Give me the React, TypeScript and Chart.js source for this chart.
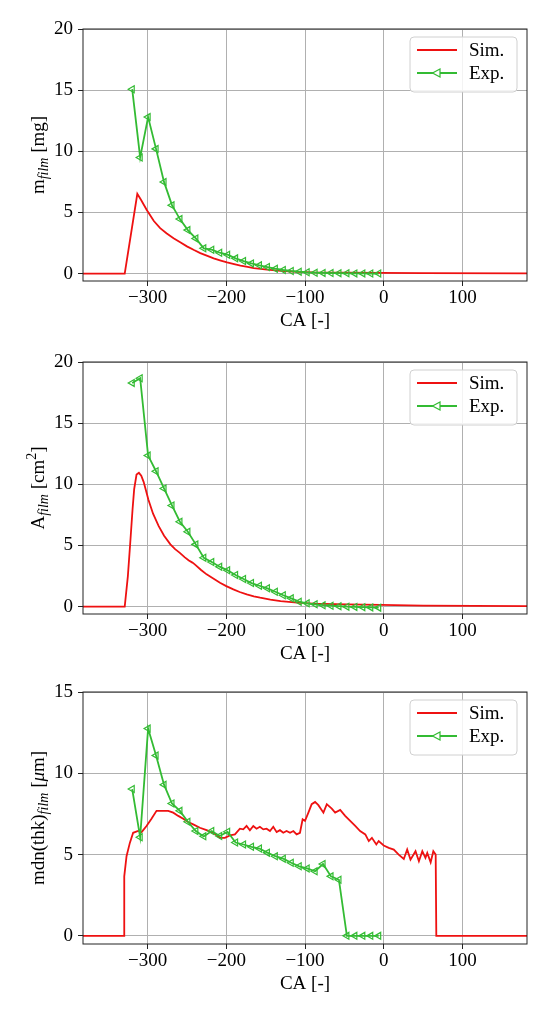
import React, { useEffect, useRef } from 'react';
import Chart from 'chart.js/auto';

const FONT = '"Liberation Serif", "DejaVu Serif", serif';
const RED = '#ee1111';
const GREEN = '#33bb33';

// crank angle of the measured points, same for all three panels
const caExp = [
  -319.5, -309.4, -299.3, -289.2, -279.1, -269, -258.9, -248.8, -238.7, -228.6, -218.5,
  -208.4, -198.3, -188.2, -178.1, -168, -157.9, -147.8, -137.7, -127.6, -117.5, -107.4,
  -97.3, -87.2, -77.1, -67, -56.9, -46.8, -36.7, -26.6, -16.5, -6.4,
];
const massExp = [
  15.08, 9.5, 12.8, 10.2, 7.5, 5.6, 4.46, 3.56, 2.88, 2.07, 1.96, 1.71, 1.55, 1.25, 1.03,
  0.84, 0.68, 0.54, 0.41, 0.3, 0.22, 0.16, 0.11, 0.08, 0.06, 0.05, 0.04, 0.03, 0.02, 0.02,
  0.01, 0.01,
];
const areaExp = [
  18.29, 18.67, 12.35, 11.07, 9.66, 8.27, 6.94, 6.12, 5.09, 4.0, 3.65, 3.27, 2.97, 2.59,
  2.26, 1.93, 1.71, 1.5, 1.22, 0.93, 0.68, 0.41, 0.27, 0.19, 0.12, 0.08, 0.04, 0.0, -0.02,
  -0.04, -0.06, -0.08,
];
const thkExp = [
  9.03, 6.07, 12.75, 11.1, 9.3, 8.14, 7.69, 7.02, 6.45, 6.12, 6.45, 6.14, 6.4, 5.74, 5.62,
  5.48, 5.37, 5.12, 4.9, 4.75, 4.5, 4.28, 4.15, 3.97, 4.42, 3.66, 3.45, 0, 0, 0, 0, 0,
];

// simulation curves
const caSimMass = [
  -382, -329, -313, -308, -301, -292, -284, -276, -267, -258, -250, -241, -233, -224, -216,
  -207, -199, -190, -182, -173, -165, -148, -131, -110, -89, -47, -4, 50, 182,
];
const massSim = [
  0, 0, 6.52, 6.0, 5.2, 4.3, 3.72, 3.3, 2.9, 2.55, 2.23, 1.93, 1.68, 1.45, 1.25, 1.07, 0.92,
  0.78, 0.65, 0.55, 0.46, 0.33, 0.22, 0.14, 0.1, 0.08, 0.07, 0.05, 0.03,
];
const caSimArea = [
  -382, -329, -325, -322, -319, -317, -314, -311, -308, -305, -302, -299, -293, -286, -279,
  -271, -265, -259, -253, -248, -243, -240, -232, -225, -216, -208, -200, -191, -183, -174,
  -165, -157, -144, -131, -110, -89, -47, -4, 50, 182,
];
const areaSim = [
  0, 0, 2.5, 5.2, 8.0, 9.6, 10.8, 10.94, 10.7, 10.2, 9.5, 8.76, 7.6, 6.6, 5.8, 5.09, 4.7,
  4.4, 4.05, 3.8, 3.6, 3.46, 3.0, 2.64, 2.28, 1.96, 1.68, 1.41, 1.2, 1.0, 0.85, 0.73, 0.58,
  0.46, 0.33, 0.24, 0.19, 0.14, 0.08, 0.04,
];
const caSimThk = [
  -382, -329.7, -329.6, -326.7, -322.5, -318.3, -312, -307.6, -301.3, -295, -288.6, -282.3,
  -273.8, -267.4, -261, -254.7, -248.4, -242, -233.5, -225, -216.6, -208, -201.8, -195.4,
  -189, -182.7, -178.4, -174.2, -170, -165.7, -161.5, -157.3, -153, -148.8, -144.5, -140.3,
  -136, -131.8, -127.6, -123.4, -119, -114.8, -110.6, -106.4, -103, -100, -95.7, -91.5,
  -87.2, -83, -76.6, -72.3, -66, -61.7, -55.3, -49, -42.6, -36.2, -30, -23.4, -19, -15,
  -9.4, -6.4, 0, 6.4, 12.8, 19, 25.5, 29.8, 34, 40.4, 44.7, 49, 53, 55.3, 59.6, 63, 66,
  66.8, 182,
];
const thkSim = [
  0, 0, 3.66, 4.9, 5.72, 6.34, 6.45, 6.38, 6.76, 7.21, 7.69, 7.69, 7.69, 7.58, 7.38, 7.21,
  7.0, 6.86, 6.65, 6.5, 6.34, 6.03, 6.03, 6.18, 6.24, 6.59, 6.55, 6.76, 6.5, 6.76, 6.59,
  6.71, 6.55, 6.59, 6.45, 6.71, 6.38, 6.5, 6.34, 6.45, 6.34, 6.45, 6.24, 6.34, 7.17, 7.07,
  7.58, 8.1, 8.24, 8.04, 7.58, 8.1, 7.83, 7.58, 7.75, 7.38, 7.07, 6.76, 6.45, 6.24, 5.83,
  6.03, 5.62, 5.83, 5.56, 5.41, 5.31, 5.0, 4.73, 5.31, 4.69, 5.21, 4.59, 5.21, 4.79, 5.1,
  4.52, 5.21, 5.0, 0, 0,
];

const xTicks = [-300, -200, -100, 0, 100];
const massTicks = [0, 5, 10, 15, 20];
const areaTicks = [0, 5, 10, 15, 20];
const thkTicks = [0, 5, 10, 15];

type LabelPart = { text: string; italic?: boolean; small?: boolean; shift?: number };

const massLabel: LabelPart[] = [
  { text: 'm' },
  { text: 'film', italic: true, small: true, shift: 4 },
  { text: ' [mg]' },
];
const areaLabel: LabelPart[] = [
  { text: 'A' },
  { text: 'film', italic: true, small: true, shift: 4 },
  { text: ' [cm' },
  { text: '2', small: true, shift: -8 },
  { text: ']' },
];
const thkLabel: LabelPart[] = [
  { text: 'mdn(thk)' },
  { text: 'film', italic: true, small: true, shift: 4 },
  { text: ' [' },
  { text: 'μ', italic: true },
  { text: 'm]' },
];

const partFont = (p: LabelPart) => `${p.italic ? 'italic ' : ''}${p.small ? 14 : 19}px ${FONT}`;

const fmt = (v: number) => (v < 0 ? '\u2212' + Math.abs(v) : String(v));

interface PanelProps {
  top: number;
  simX: number[];
  simY: number[];
  expY: number[];
  yTicks: number[];
  yMin: number;
  yMax: number;
  yLabel: LabelPart[];
}

const FilmPanel: React.FC<PanelProps> = ({ top, simX, simY, expY, yTicks, yMin, yMax, yLabel }) => {
  const canvasRef = useRef<HTMLCanvasElement>(null);

  useEffect(() => {
    if (!canvasRef.current) return;

    const decor = {
      id: 'decor',
      afterDatasetsDraw(chart: any) {
        const { ctx, chartArea: a } = chart;
        ctx.save();
        // frame on all four sides
        ctx.strokeStyle = '#222';
        ctx.lineWidth = 1;
        ctx.strokeRect(a.left, a.top, a.right - a.left, a.bottom - a.top);

        // legend box in the upper right corner
        const bw = 107;
        const bh = 55;
        const bx = a.right - 10 - bw;
        const by = a.top + 8;
        ctx.beginPath();
        ctx.roundRect(bx, by, bw, bh, 4);
        ctx.fillStyle = 'rgba(255,255,255,0.85)';
        ctx.fill();
        ctx.strokeStyle = '#d0d0d0';
        ctx.stroke();

        const rows = [
          { label: 'Sim.', color: RED, marker: false },
          { label: 'Exp.', color: GREEN, marker: true },
        ];
        rows.forEach((r, i) => {
          const y = by + 13 + i * 23;
          ctx.strokeStyle = r.color;
          ctx.lineWidth = 1.8;
          ctx.beginPath();
          ctx.moveTo(bx + 7, y);
          ctx.lineTo(bx + 47, y);
          ctx.stroke();
          if (r.marker) {
            const cx = bx + 27;
            ctx.lineWidth = 1.2;
            ctx.fillStyle = '#fff';
            ctx.beginPath();
            ctx.moveTo(cx - 4.5, y);
            ctx.lineTo(cx + 3, y - 4);
            ctx.lineTo(cx + 3, y + 4);
            ctx.closePath();
            ctx.fill();
            ctx.stroke();
          }
          ctx.fillStyle = '#000';
          ctx.font = `19px ${FONT}`;
          ctx.textBaseline = 'middle';
          ctx.textAlign = 'left';
          ctx.fillText(r.label, bx + 59, y + 1);
        });
        ctx.restore();
      },
      afterDraw(chart: any) {
        const { ctx, chartArea: a } = chart;
        ctx.save();
        ctx.fillStyle = '#000';
        // x title
        ctx.font = `19px ${FONT}`;
        ctx.textAlign = 'center';
        ctx.textBaseline = 'middle';
        ctx.fillText('CA [-]', (a.left + a.right) / 2, a.bottom + 40);

        // y title with sub/superscripts, rotated
        const widths = yLabel.map((p) => {
          ctx.font = partFont(p);
          return ctx.measureText(p.text).width;
        });
        const total = widths.reduce((s, w) => s + w, 0);
        ctx.translate(44, (a.top + a.bottom) / 2);
        ctx.rotate(-Math.PI / 2);
        ctx.textAlign = 'left';
        ctx.textBaseline = 'alphabetic';
        let x = -total / 2;
        yLabel.forEach((p, i) => {
          ctx.font = partFont(p);
          ctx.fillText(p.text, x, p.shift ?? 0);
          x += widths[i];
        });
        ctx.restore();
      },
    };

    const chart = new Chart(canvasRef.current, {
      type: 'line',
      data: {
        datasets: [
          {
            label: 'Exp.',
            data: caExp.map((x, i) => ({ x, y: expY[i] })),
            borderColor: GREEN,
            borderWidth: 1.8,
            pointStyle: 'triangle',
            rotation: -90,
            pointRadius: 4,
            pointBorderWidth: 1.2,
            pointBackgroundColor: 'rgba(0,0,0,0)',
            pointBorderColor: GREEN,
            tension: 0,
          },
          {
            label: 'Sim.',
            data: simX.map((x, i) => ({ x, y: simY[i] })),
            borderColor: RED,
            borderWidth: 1.8,
            pointRadius: 0,
            tension: 0,
          },
        ],
      },
      options: {
        animation: false,
        responsive: true,
        maintainAspectRatio: false,
        layout: { padding: { top: 29, right: 26, left: 0, bottom: 0 } },
        plugins: { legend: { display: false }, tooltip: { enabled: false } },
        scales: {
          x: {
            type: 'linear',
            min: -382,
            max: 182,
            afterBuildTicks: (s: any) => {
              s.ticks = xTicks.map((v) => ({ value: v }));
            },
            afterFit: (s: any) => {
              s.height = 58;
            },
            grid: { color: '#b0b0b0', lineWidth: 1, tickColor: '#222', tickLength: 5 },
            border: { display: false },
            ticks: {
              color: '#000',
              padding: 1,
              maxRotation: 0,
              font: { family: FONT, size: 19 },
              callback: (v: any) => fmt(Number(v)),
            },
          },
          y: {
            min: yMin,
            max: yMax,
            afterBuildTicks: (s: any) => {
              s.ticks = yTicks.map((v) => ({ value: v }));
            },
            afterFit: (s: any) => {
              s.width = 83;
            },
            grid: { color: '#b0b0b0', lineWidth: 1, tickColor: '#222', tickLength: 5 },
            border: { display: false },
            ticks: {
              color: '#000',
              padding: 5,
              font: { family: FONT, size: 19 },
              callback: (v: any) => fmt(Number(v)),
            },
          },
        },
      },
      plugins: [decor],
    });

    return () => {
      chart.destroy();
    };
  }, [simX, simY, expY, yTicks, yMin, yMax, yLabel]);

  return (
    <div style={{ position: 'absolute', left: 0, top, width: 553, height: 339 }}>
      <canvas ref={canvasRef} />
    </div>
  );
};

export default function App() {
  return (
    <div style={{ position: 'absolute', left: 0, top: 0, width: 553, height: 1017, background: '#fff' }}>
      <FilmPanel top={0} simX={caSimMass} simY={massSim} expY={massExp} yTicks={massTicks} yMin={-0.6} yMax={20} yLabel={massLabel} />
      <FilmPanel top={333} simX={caSimArea} simY={areaSim} expY={areaExp} yTicks={areaTicks} yMin={-0.6} yMax={20} yLabel={areaLabel} />
      <FilmPanel top={663} simX={caSimThk} simY={thkSim} expY={thkExp} yTicks={thkTicks} yMin={-0.5} yMax={15} yLabel={thkLabel} />
    </div>
  );
}
